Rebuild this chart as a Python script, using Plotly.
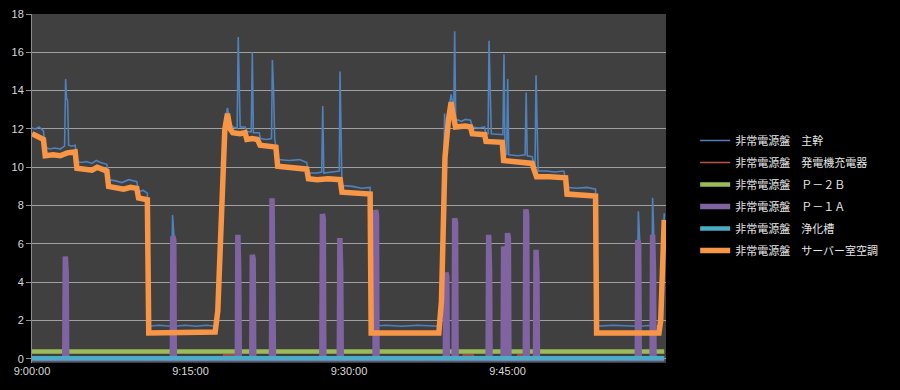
import plotly.graph_objects as go

DAY = "2024-01-01 "

# 非常電源盤 主幹
main_t = ["09:00:00","09:00:20","09:00:40","09:00:55","09:01:05","09:01:15","09:01:40","09:02:10","09:02:40","09:03:05",
          "09:03:11","09:03:16","09:03:22","09:03:28","09:03:45","09:04:05","09:04:15","09:04:40","09:05:10","09:05:40",
          "09:06:05","09:06:30","09:07:05","09:07:15","09:07:50","09:08:30","09:09:10","09:09:55","09:10:05","09:10:30",
          "09:10:55","09:11:03","09:12:00","09:13:10","09:13:18","09:13:26","09:13:32","09:14:30","09:15:30","09:16:30",
          "09:17:20","09:17:35","09:18:00","09:18:15","09:18:30","09:18:45","09:19:00","09:19:25","09:19:31","09:19:36",
          "09:19:42","09:20:10","09:20:20","09:20:45","09:20:51","09:20:57","09:21:30","09:21:37","09:22:10","09:22:40",
          "09:22:45","09:22:52","09:22:58","09:23:15","09:24:20","09:25:20","09:26:00","09:26:10","09:27:00","09:27:25",
          "09:27:31","09:27:37","09:28:30","09:29:05","09:29:09","09:29:14","09:29:20","09:30:20","09:31:10","09:32:00",
          "09:32:06","09:33:30","09:35:00","09:36:30","09:38:30","09:38:45","09:39:03","09:39:08","09:39:25","09:39:40",
          "09:39:55","09:40:00","09:40:06","09:40:40","09:41:00","09:41:30","09:41:40","09:42:20","09:42:50","09:42:58",
          "09:43:10","09:43:15","09:43:22","09:43:28","09:44:34","09:44:40","09:44:46","09:44:55","09:45:01","09:45:07",
          "09:46:00","09:46:40","09:46:46","09:46:52","09:47:20","09:47:30","09:47:36","09:47:42","09:47:48","09:47:54",
          "09:48:40","09:49:30","09:50:20","09:50:38","09:51:30","09:52:30","09:53:20","09:53:26","09:55:00","09:57:15",
          "09:57:23","09:57:30","09:57:36","09:58:38","09:58:44","09:58:50","09:58:56","09:59:20","09:59:30","09:59:40",
          "09:59:50"]
main_v = [12.05,12.0,12.1,11.95,11.9,11.05,10.95,11.0,10.95,11.1,
          14.6,13.6,13.5,11.15,11.1,11.15,10.3,10.25,10.3,10.2,
          10.35,10.25,10.15,9.35,9.3,9.2,9.35,9.25,8.7,8.8,
          8.65,1.7,1.75,1.7,7.5,6.4,1.7,1.75,1.7,1.75,
          1.7,2.8,9.8,12.4,13.1,12.3,12.1,12.05,16.8,14.6,
          12.1,12.1,11.85,11.85,16.0,11.8,11.8,11.5,11.45,11.5,
          15.6,13.9,11.5,10.4,10.35,10.4,10.25,9.7,9.7,9.75,
          13.2,9.7,9.75,9.8,15.0,12.6,9.05,9.0,8.9,8.95,
          1.7,1.75,1.7,1.75,1.7,3.3,12.8,11.0,12.9,13.8,
          13.0,17.1,12.5,12.4,12.5,12.45,12.1,12.05,12.1,11.7,
          11.75,16.6,14.1,11.75,11.7,15.9,10.7,10.65,14.6,10.65,
          10.6,10.65,13.9,10.6,10.55,10.2,9.85,14.8,12.0,9.8,
          9.8,9.75,9.8,8.95,8.9,8.95,8.85,1.7,1.75,1.7,
          7.7,6.3,1.7,1.75,8.4,6.6,1.7,1.7,2.3,4.6,
          7.6]

# 非常電源盤 発電機充電器
gen_t = ["09:00:00","09:18:05","09:18:10","09:19:40","09:19:45","09:40:45","09:40:50","09:41:45","09:41:50",
         "09:45:55","09:46:00","09:46:20","09:46:25","09:59:50"]
gen_v = [0.0,0.0,0.2,0.2,0.0,0.0,0.2,0.2,0.0,0.0,0.2,0.2,0.0,0.0]

# 非常電源盤 Ｐ－２Ｂ
p2b_t = ["09:00:00","09:15:00","09:30:00","09:45:00","09:59:50"]
p2b_v = [0.38,0.38,0.38,0.38,0.38]

# 非常電源盤 Ｐ－１Ａ
p1a_t = ["09:00:00",
         "09:03:06","09:03:09","09:03:14","09:03:17",
         "09:13:17","09:13:20","09:13:25","09:13:28",
         "09:19:26","09:19:29","09:19:34","09:19:37",
         "09:20:48","09:20:51","09:20:56","09:20:59",
         "09:22:40","09:22:43","09:22:48","09:22:51",
         "09:27:26","09:27:29","09:27:34","09:27:37",
         "09:29:05","09:29:08","09:29:13","09:29:16",
         "09:32:28","09:32:31","09:32:36","09:32:39",
         "09:39:07","09:39:10","09:39:15","09:39:18",
         "09:39:57","09:40:00","09:40:05","09:40:08",
         "09:43:10","09:43:13","09:43:18","09:43:21",
         "09:44:35","09:44:38","09:44:43","09:44:46",
         "09:44:57","09:45:00","09:45:05","09:45:08",
         "09:46:41","09:46:44","09:46:49","09:46:52",
         "09:47:39","09:47:42","09:47:47","09:47:50",
         "09:57:17","09:57:20","09:57:25","09:57:28",
         "09:58:41","09:58:44","09:58:49","09:58:52",
         "09:59:50"]
p1a_v = [0,
         0,5.34,4.5,0,
         0,6.4,6.2,0,
         0,6.47,4.5,0,
         0,5.43,5.2,0,
         0,8.38,4.4,0,
         0,7.56,7.3,0,
         0,6.3,4.6,0,
         0,7.77,7.5,0,
         0,4.5,4.3,0,
         0,7.34,7.1,0,
         0,6.47,4.6,0,
         0,5.86,5.6,0,
         0,6.56,6.3,0,
         0,7.8,7.5,0,
         0,5.69,4.5,0,
         0,6.2,5.9,0,
         0,6.47,4.5,0,
         0]

# 非常電源盤 浄化槽
jok_t = ["09:00:00","09:15:00","09:30:00","09:45:00","09:59:50"]
jok_v = [0.03,0.03,0.03,0.03,0.03]

# 非常電源盤 サーバー室空調
ac_t = ["09:00:00","09:00:30","09:00:55","09:01:05","09:01:15","09:02:00","09:02:40","09:03:20","09:04:05","09:04:15",
        "09:05:00","09:05:40","09:06:10","09:06:40","09:07:05","09:07:15","09:08:00","09:08:40","09:09:20","09:09:55",
        "09:10:05","09:10:30","09:10:55","09:11:03","09:14:00","09:17:20","09:17:35","09:18:00","09:18:15","09:18:30",
        "09:18:45","09:19:00","09:19:40","09:20:10","09:20:20","09:20:50","09:21:20","09:21:35","09:22:30","09:23:05",
        "09:23:15","09:24:00","09:25:00","09:26:00","09:26:10","09:27:00","09:28:00","09:29:10","09:29:20","09:30:30",
        "09:32:00","09:32:06","09:38:30","09:38:45","09:39:05","09:39:25","09:39:40","09:39:50","09:40:05","09:41:00",
        "09:41:30","09:41:40","09:42:50","09:42:58","09:44:30","09:44:38","09:46:00","09:47:20","09:47:30","09:47:45",
        "09:49:00","09:50:30","09:50:38","09:52:00","09:53:20","09:53:26","09:59:20","09:59:30","09:59:40","09:59:50"]
ac_v = [11.75,11.65,11.5,11.45,10.6,10.65,10.6,10.75,10.8,9.95,
        9.9,9.85,10.0,9.85,9.8,9.0,8.95,8.85,8.95,8.9,
        8.4,8.35,8.3,1.35,1.35,1.4,2.5,9.5,12.0,12.8,
        12.0,11.8,11.75,11.8,11.45,11.5,11.45,11.15,11.1,11.05,
        10.05,10.0,9.95,9.9,9.4,9.35,9.4,9.35,8.7,8.65,
        8.6,1.35,1.35,3.0,10.5,12.5,13.4,12.8,12.1,12.15,
        12.1,11.75,11.7,11.35,11.3,10.35,10.3,10.2,9.9,9.5,
        9.5,9.45,8.6,8.55,8.5,1.35,1.35,2.0,4.3,7.25]

tick_times = ["09:00:00","09:15:00","09:30:00","09:45:00"]
tick_labels = ["9:00:00","9:15:00","9:30:00","9:45:00"]

series = [
    ("非常電源盤　主幹", main_t, main_v, "#4F81BD", 1.6),
    ("非常電源盤　発電機充電器", gen_t, gen_v, "#C0504D", 1.6),
    ("非常電源盤　Ｐ－２Ｂ", p2b_t, p2b_v, "#9BBB59", 4.5),
    ("非常電源盤　Ｐ－１Ａ", p1a_t, p1a_v, "#8064A2", 5.5),
    ("非常電源盤　浄化槽", jok_t, jok_v, "#4BACC6", 4.5),
    ("非常電源盤　サーバー室空調", ac_t, ac_v, "#F79646", 5.5),
]

fig = go.Figure()
for name, t, v, color, w in series:
    fig.add_trace(go.Scatter(
        x=[DAY + s for s in t], y=v, name=name, mode="lines",
        legendgroup=name,
        line=dict(color=color, width=w),
    ))

fig.update_layout(
    width=900, height=390,
    margin=dict(l=32, r=234, t=14, b=27, autoexpand=False),
    paper_bgcolor="#000000",
    plot_bgcolor="#404040",
    showlegend=True,
    legend=dict(
        x=1.046, y=0.48, xanchor="left", yanchor="middle",
        font=dict(family="Noto Sans CJK JP", size=11, color="#e6e6e6"),
        bgcolor="rgba(0,0,0,0)", itemwidth=30, tracegroupgap=3,
    ),
    font=dict(family="Liberation Sans", size=11, color="#d9d9d9"),
)
fig.update_xaxes(
    type="date", automargin=False,
    range=[DAY + "09:00:00", DAY + "10:00:00"],
    tickvals=[DAY + s for s in tick_times],
    ticktext=tick_labels,
    showgrid=False, zeroline=False,
    showline=False,
    ticks="",
    tickfont=dict(family="Liberation Sans", size=11, color="#d9d9d9"),
)
fig.update_yaxes(
    automargin=False,
    range=[-0.22, 18],
    tickvals=[0, 2, 4, 6, 8, 10, 12, 14, 16, 18],
    showgrid=True, gridcolor="#a0a0a0", gridwidth=1,
    zeroline=False,
    showline=True, linecolor="#8c8c8c", linewidth=1,
    ticks="outside", ticklen=5, tickcolor="#8c8c8c",
    tickfont=dict(family="Liberation Sans", size=11, color="#d9d9d9"),
)

fig.write_html(
    "out.html",
    config={"displayModeBar": False},
    post_script="document.body.style.margin='0';document.body.style.background='#000';",
)
